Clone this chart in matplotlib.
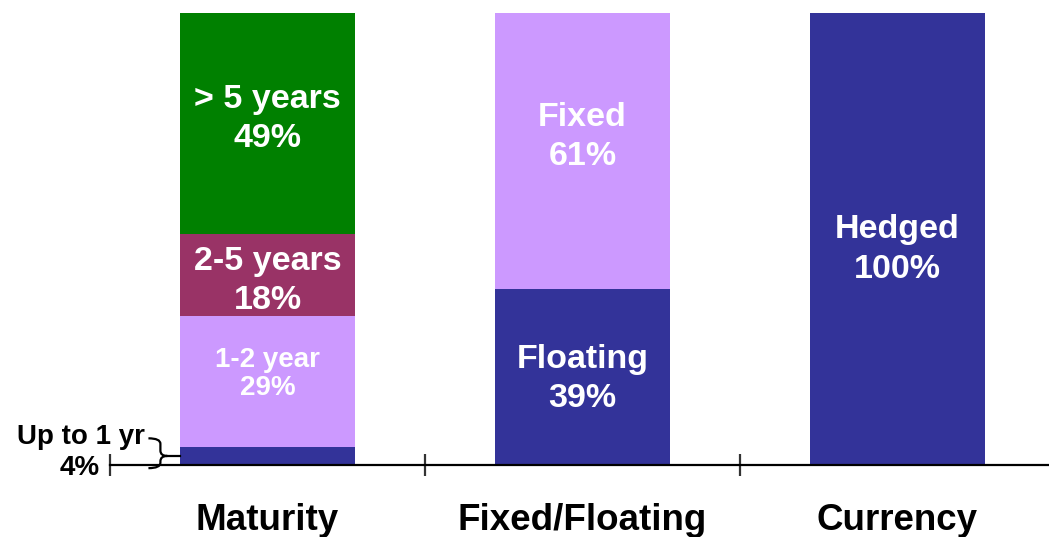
import numpy as np
import matplotlib.pyplot as plt
from matplotlib.path import Path
from matplotlib.patches import PathPatch

plt.rcParams['font.family'] = ['Liberation Sans', 'DejaVu Sans']
plt.rcParams['font.weight'] = 'bold'

# Data
categories = ["Maturity", "Fixed/Floating", "Currency"]
maturity_labels = ["Up to 1 yr", "1-2 year", "2-5 years", "> 5 years"]
maturity_vals = [4, 29, 18, 49]
fixfloat_labels = ["Floating", "Fixed"]
fixfloat_vals = [39, 61]
currency_labels = ["Hedged"]
currency_vals = [100]

c_blue = "#333399"
c_lilac = "#CC99FF"
c_maroon = "#993366"
c_green = "#008000"

stacks = [
    (maturity_labels, maturity_vals, [c_blue, c_lilac, c_maroon, c_green]),
    (fixfloat_labels, fixfloat_vals, [c_blue, c_lilac]),
    (currency_labels, currency_vals, [c_blue]),
]
# label font sizes / vertical nudges / line spacing per segment
label_style = [
    [None, (20, 1.6, 1.13), (24.5, -1.3, 1.35), (24.5, 1.0, 1.35)],
    [(24.5, -0.5, 1.35), (24.5, 3.0, 1.35)],
    [(24.5, -2.3, 1.35)],
]

fig = plt.figure(figsize=(10.49, 5.37), dpi=100)
ax = fig.add_axes([110 / 1049, 72 / 537, 945 / 1049, 452 / 537])

width = 0.556
for i, (labels, vals, colors) in enumerate(stacks):
    bottom = 0
    for j, (lab, v, col) in enumerate(zip(labels, vals, colors)):
        ax.bar(i, v, width=width, bottom=bottom, color=col, edgecolor='none', zorder=2)
        st = label_style[i][j]
        if st is not None:
            fs, dy, ls = st
            ax.text(i, bottom + v / 2 + dy, f"{lab}\n{v}%", ha='center', va='center',
                    color='white', fontsize=fs, fontweight='bold', linespacing=ls, zorder=3)
        bottom += v

ax.set_xlim(-0.5, 2.5)
ax.set_ylim(0, 100)
for s in ['top', 'left', 'right']:
    ax.spines[s].set_visible(False)
ax.spines['bottom'].set_linewidth(1.6)
ax.spines['bottom'].set_zorder(4)
ax.set_yticks([])
ax.set_xticks([-0.5, 0.5, 1.5, 2.5])
ax.set_xticklabels([])
ax.tick_params(axis='x', direction='inout', length=16, width=1.6, color='#333333')

for i, cat in enumerate(categories):
    ax.text(i, -0.1438, cat, transform=ax.get_xaxis_transform(), ha='center', va='baseline',
            fontsize=26.5, fontweight='bold', color='black', clip_on=False)

# "Up to 1 yr" callout with brace
small_lab, small_val = maturity_labels[0], maturity_vals[0]
ax.text(-0.389, 6.2, small_lab, ha='right', va='center', fontsize=20, fontweight='bold', clip_on=False)
ax.text(-0.532, -0.7, f"{small_val}%", ha='right', va='center', fontsize=20, fontweight='bold', clip_on=False)

xa, xb, xc = -0.378, -0.340, -0.318
top, bot, mid = 5.9, -0.7, small_val / 2
r = 1.2
verts = [(xa, top), (xb, top), (xb, top - r),
         (xb, mid + r), (xb, mid), (xc, mid),
         (xb, mid), (xb, mid - r),
         (xb, bot + r), (xb, bot), (xa, bot)]
codes = [Path.MOVETO, Path.CURVE3, Path.CURVE3,
         Path.LINETO, Path.CURVE3, Path.CURVE3,
         Path.CURVE3, Path.CURVE3,
         Path.LINETO, Path.CURVE3, Path.CURVE3]
ax.add_patch(PathPatch(Path(verts, codes), fill=False, lw=1.6, color='black', clip_on=False))
ax.plot([xc, -width / 2], [mid, mid], color='black', lw=1.6, clip_on=False)

fig.savefig("out.png", dpi=100)
